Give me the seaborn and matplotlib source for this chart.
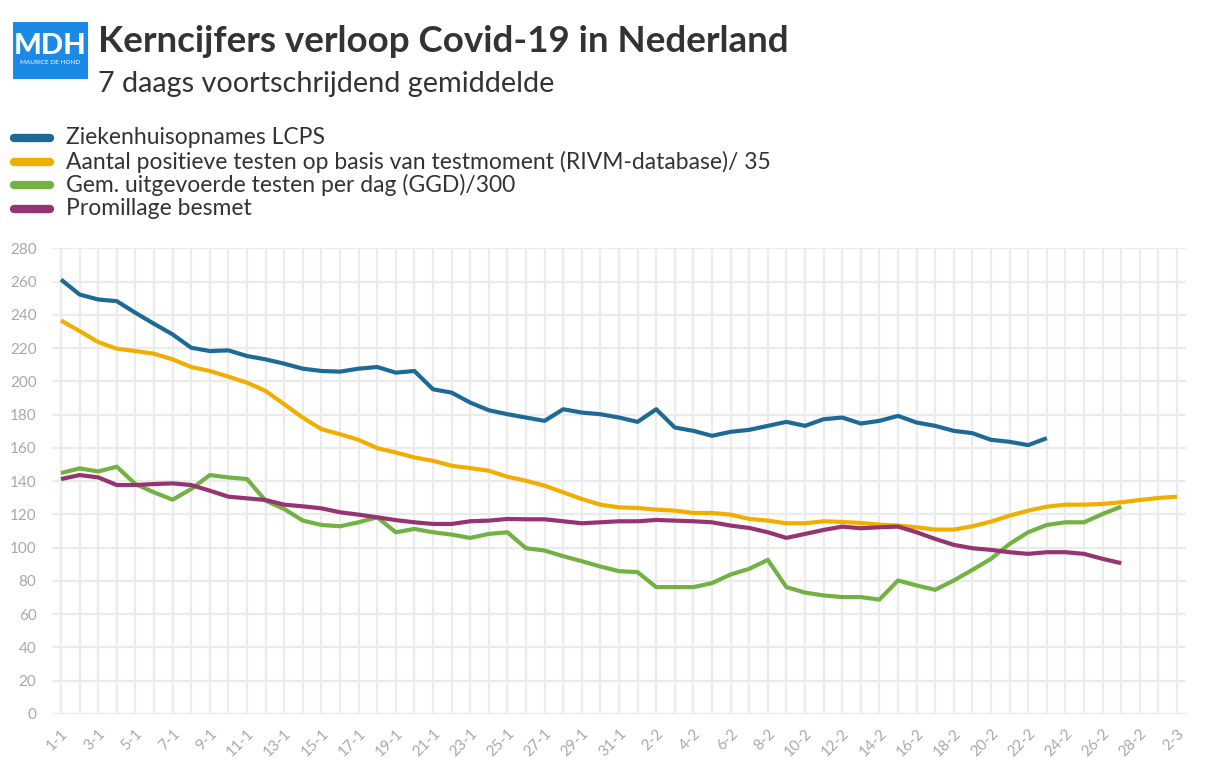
import matplotlib
matplotlib.use("Agg")
import matplotlib.pyplot as plt
from matplotlib.lines import Line2D
from matplotlib.patches import Rectangle
import seaborn as sns
import pandas as pd
import numpy as np
import datetime as dt

# ---------------- data ----------------
start = dt.date(2021, 1, 1)
n_days = 61
dates = [start + dt.timedelta(days=i) for i in range(n_days)]
tick_labels = [f"{d.day}-{d.month}" for d in dates]

series_names = [
    "Ziekenhuisopnames LCPS",
    "Aantal positieve testen op basis van testmoment (RIVM-database)/ 35",
    "Gem. uitgevoerde testen per dag (GGD)/300",
    "Promillage besmet",
]

lcps = [261.2, 252.2, 249.2, 248.2, 241.2, 234.6, 228.2, 220.2, 218.2, 218.6,
        215.2, 213.2, 210.6, 207.6, 206.2, 205.8, 207.6, 208.6, 205.2, 206.2,
        195.2, 193.2, 187.2, 182.6, 180.2, 178.2, 176.2, 183.2, 181.2, 180.2,
        178.2, 175.6, 183.2, 172.2, 170.2, 167.2, 169.6, 170.8, 173.2, 175.6,
        173.2, 177.2, 178.2, 174.6, 176.2, 179.2, 175.2, 173.2, 170.2, 168.8,
        164.8, 163.6, 161.6, 165.8]

positief = [236.6, 230.2, 223.6, 219.6, 218.2, 216.6, 213.2, 208.6, 206.2, 202.8,
            199.2, 194.2, 186.2, 178.2, 171.2, 168.2, 164.8, 159.8, 157.2, 154.2,
            152.2, 149.2, 147.8, 146.2, 142.6, 140.2, 137.2, 133.2, 129.2, 125.8,
            124.2, 123.8, 122.8, 122.2, 120.8, 120.8, 119.8, 117.2, 116.2, 114.6,
            114.6, 115.8, 115.4, 114.8, 113.8, 113.2, 112.2, 110.8, 110.8, 112.8,
            115.6, 119.2, 122.2, 124.6, 125.8, 125.8, 126.2, 127.2, 128.6, 129.8,
            130.6]

testen = [144.8, 147.6, 145.8, 148.6, 138.2, 133.2, 128.8, 135.2, 143.6, 142.2,
          141.2, 128.2, 123.2, 116.2, 113.6, 112.8, 115.2, 118.2, 109.2, 111.2,
          109.2, 107.8, 105.8, 108.2, 109.2, 99.6, 98.2, 94.8, 91.8, 88.6,
          85.8, 85.2, 76.2, 76.2, 76.2, 78.6, 83.8, 87.2, 92.6, 76.2,
          72.9, 71.2, 70.2, 70.2, 68.7, 80.2, 77.2, 74.6, 80.2, 86.6,
          93.2, 102.2, 109.2, 113.6, 115.2, 115.2, 120.2, 124.6]

promillage = [141.2, 143.6, 142.2, 137.6, 137.6, 138.2, 138.6, 137.6, 134.2, 130.6,
              129.6, 128.6, 125.8, 124.8, 123.6, 121.2, 119.8, 118.2, 116.5, 115.2,
              114.2, 114.2, 115.8, 116.2, 117.2, 117.0, 117.0, 115.8, 114.6, 115.2,
              115.8, 115.8, 116.6, 116.2, 115.8, 115.2, 113.2, 111.8, 109.2, 105.8,
              108.2, 110.6, 112.6, 111.6, 112.2, 112.6, 109.2, 105.2, 101.6, 99.6,
              98.6, 97.2, 96.2, 97.2, 97.2, 96.2, 93.2, 90.6]

series_values = [lcps, positief, testen, promillage]
colors = ["#1d6a97", "#f2ae00", "#73b143", "#953470"]

frames = []
for name, vals in zip(series_names, series_values):
    frames.append(pd.DataFrame({"day": np.arange(len(vals)), "value": vals, "serie": name}))
df = pd.concat(frames, ignore_index=True)

# ---------------- figure ----------------
sns.set_theme(style="white")
plt.rcParams["font.family"] = ["Lato", "DejaVu Sans"]

W, H = 1208, 768
fig = plt.figure(figsize=(W / 100, H / 100), dpi=100)
fig.patch.set_facecolor("white")

ax = fig.add_axes([51.7 / W, 1 - 713.8 / H, (1186.3 - 51.7) / W, (713.8 - 248.3) / H])
sns.lineplot(data=df, x="day", y="value", hue="serie", hue_order=series_names,
             palette=dict(zip(series_names, colors)), linewidth=3.0, legend=False,
             ax=ax, solid_capstyle="butt", solid_joinstyle="round")

ax.set_xlim(-0.5, 60.5)
ax.set_ylim(0, 280)
ax.set_yticks(np.arange(0, 281, 20))
ax.set_xticks(np.arange(n_days))
ax.set_xticklabels([lab if i % 2 == 0 else "" for i, lab in enumerate(tick_labels)],
                   rotation=45, ha="right", rotation_mode="anchor")
ax.set_xlabel("")
ax.set_ylabel("")
ax.grid(True, color="#ebebeb", linewidth=1.6)
ax.set_axisbelow(True)
for s in ax.spines.values():
    s.set_visible(False)
ax.tick_params(axis="both", colors="#ebebeb", length=7, width=1.6, labelcolor="#a8a8a8",
               labelsize=11)
ax.tick_params(axis="y", pad=4)
ax.tick_params(axis="x", pad=2)

# ---------------- header ----------------
fig.add_artist(Rectangle((12.7 / W, 1 - 79.3 / H), 75 / W, 57.6 / H, transform=fig.transFigure,
                         facecolor="#1a8ae6", edgecolor="none"))
fig.text(50.2 / W, 1 - 46.5 / H, "MDH", color="white", fontsize=21, fontweight="black",
         ha="center", va="center")
fig.text(50.2 / W, 1 - 62 / H, "MAURICE DE HOND", color="white", fontsize=4.6,
         ha="center", va="center")

fig.text(98 / W, 1 - 41 / H, "Kerncijfers verloop Covid-19 in Nederland", color="#333333",
         fontsize=26.5, fontweight="bold", ha="left", va="center")
fig.text(98 / W, 1 - 84 / H, "7 daags voortschrijdend gemiddelde", color="#333333",
         fontsize=20.8, ha="left", va="center")

# ---------------- legend ----------------
leg_y = [138, 161.5, 185, 208.5]
for name, col, y in zip(series_names, colors, leg_y):
    fig.add_artist(Line2D([14 / W, 50 / W], [1 - y / H, 1 - y / H], transform=fig.transFigure,
                          color=col, linewidth=6, solid_capstyle="round"))
    fig.text(66 / W, 1 - y / H, name, color="#333333", fontsize=16.5, ha="left", va="center")

fig.savefig("out.png", dpi=100, facecolor="white")
